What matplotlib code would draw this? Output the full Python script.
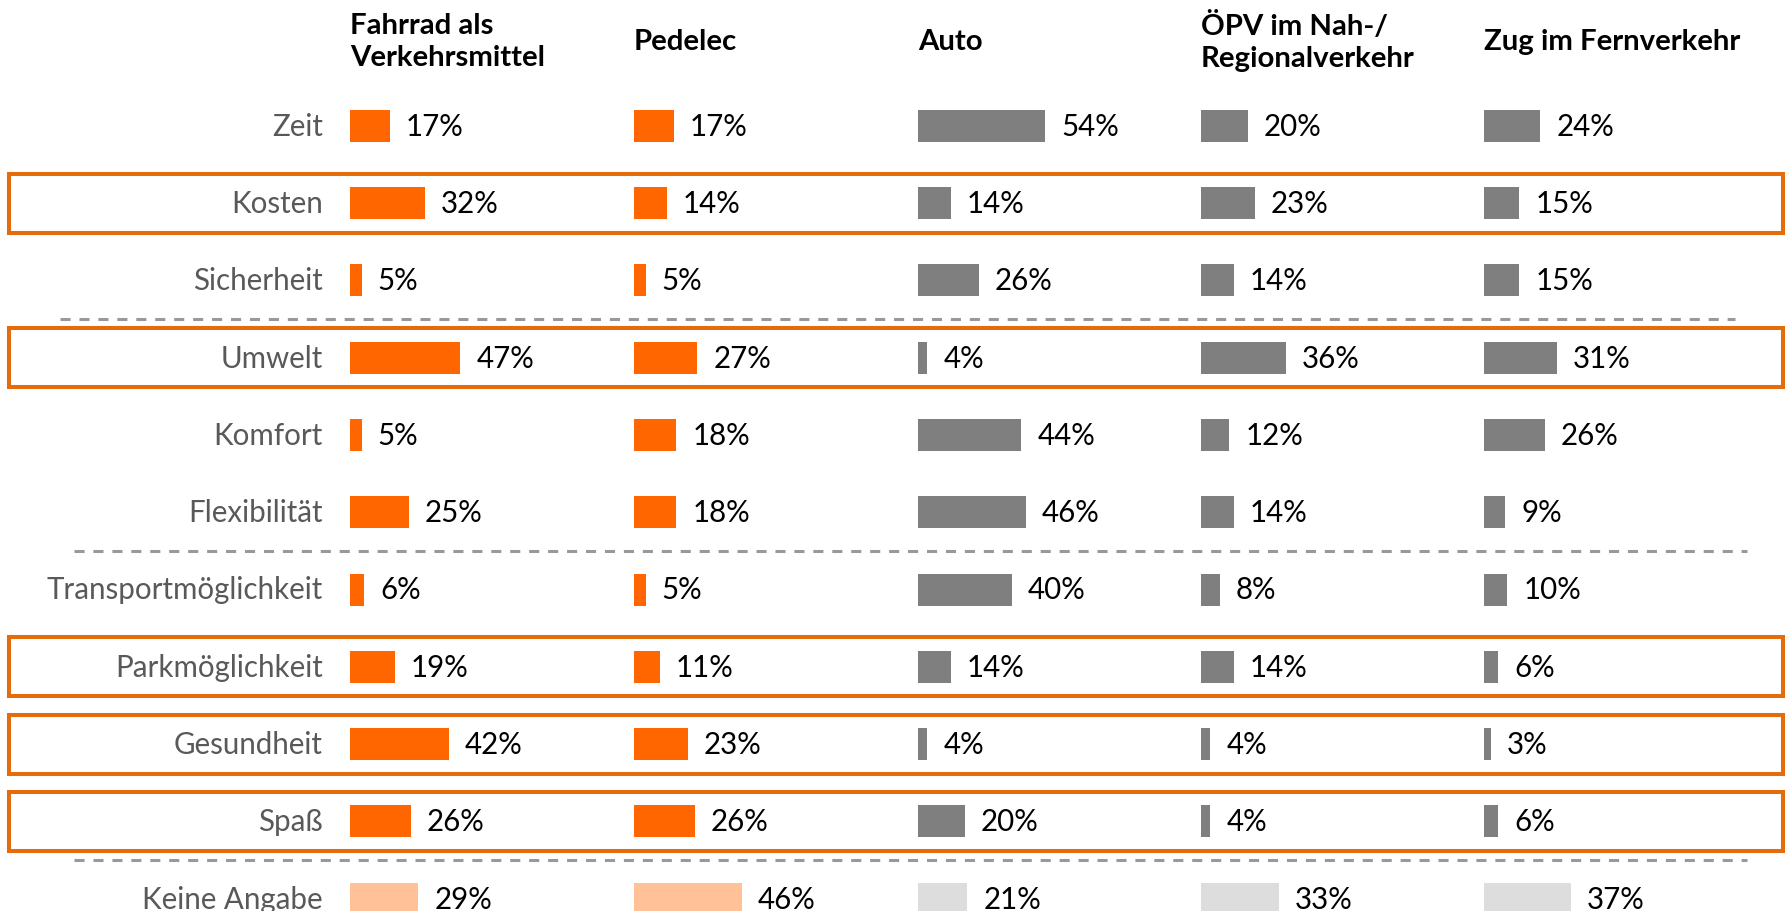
import numpy as np
import matplotlib
matplotlib.use("Agg")
import matplotlib.pyplot as plt
from matplotlib.patches import Rectangle

plt.rcParams['font.family'] = ['Lato', 'DejaVu Sans']

# data
categories = ["Zeit", "Kosten", "Sicherheit", "Umwelt", "Komfort", "Flexibilität",
              "Transportmöglichkeit", "Parkmöglichkeit", "Gesundheit", "Spaß", "Keine Angabe"]
columns = ["Fahrrad als\nVerkehrsmittel", "Pedelec", "Auto",
           "ÖPV im Nah-/\nRegionalverkehr", "Zug im Fernverkehr"]
fahrrad = [17, 32, 5, 47, 5, 25, 6, 19, 42, 26, 29]
pedelec = [17, 14, 5, 27, 18, 18, 5, 11, 23, 26, 46]
auto = [54, 14, 26, 4, 44, 46, 40, 14, 4, 20, 21]
oepv = [20, 23, 14, 36, 12, 14, 8, 14, 4, 4, 33]
zug = [24, 15, 15, 31, 26, 9, 10, 6, 3, 6, 37]
series = [fahrrad, pedelec, auto, oepv, zug]

highlighted = ["Kosten", "Umwelt", "Parkmöglichkeit", "Gesundheit", "Spaß"]
separators_after = ["Sicherheit", "Flexibilität", "Spaß"]

# layout (pixel space)
W, H = 1790, 912
col_x = [350, 634, 918, 1201, 1484]
row_y0, row_step = 126.7, 77.3
px_per_pct = 2.35
bar_h = 32

orange, orange_light = "#FF6600", "#FFC197"
grey, grey_light = "#7F7F7F", "#DCDDDC"
box_col = "#E46C0A"

fig = plt.figure(figsize=(W / 100, H / 100), dpi=100)
ax = fig.add_axes([0, 0, 1, 1])
ax.set_xlim(0, W)
ax.set_ylim(H, 0)
ax.axis("off")
renderer = fig.canvas.get_renderer()


def fit_size(s, target_px, **kw):
    t = ax.text(0, 0, s, fontsize=20, **kw)
    w = t.get_window_extent(renderer).width
    t.remove()
    return 20 * target_px / w


fs = fit_size("Transportmöglichkeit", 277)
fs_head = fit_size("Zug im Fernverkehr", 257, fontweight="bold")

ys = row_y0 + row_step * np.arange(len(categories))

for j, vals in enumerate(series):
    vals = np.array(vals, dtype=float)
    main = orange if j < 2 else grey
    light = orange_light if j < 2 else grey_light
    colors = [main] * (len(vals) - 1) + [light]
    ax.barh(ys, vals * px_per_pct, left=col_x[j], height=bar_h, color=colors,
            edgecolor="none")
    for y, v in zip(ys, vals):
        ax.text(col_x[j] + v * px_per_pct + 16, y, f"{int(v)}%", ha="left",
                va="center", fontsize=fs, color="black")
    ax.text(col_x[j], 42, columns[j], ha="left", va="center", fontsize=fs_head,
            fontweight="bold", color="black", linespacing=1.25)

for y, cat in zip(ys, categories):
    ax.text(323, y, cat, ha="right", va="center", fontsize=fs, color="#595959")

for cat in highlighted:
    y = ys[categories.index(cat)]
    ax.add_patch(Rectangle((9, y - 29.5), 1774, 59, fill=False, edgecolor=box_col,
                           linewidth=2.9))

sep_x = [(60, 1735), (74, 1747), (74, 1747)]
for (x0, x1), cat in zip(sep_x, separators_after):
    i = categories.index(cat)
    y = (ys[i] + ys[i + 1]) / 2
    ax.plot([x0, x1], [y, y], color="#999999", linewidth=2.2, dashes=(3.3, 2.9))

fig.savefig("out.png", dpi=100)
